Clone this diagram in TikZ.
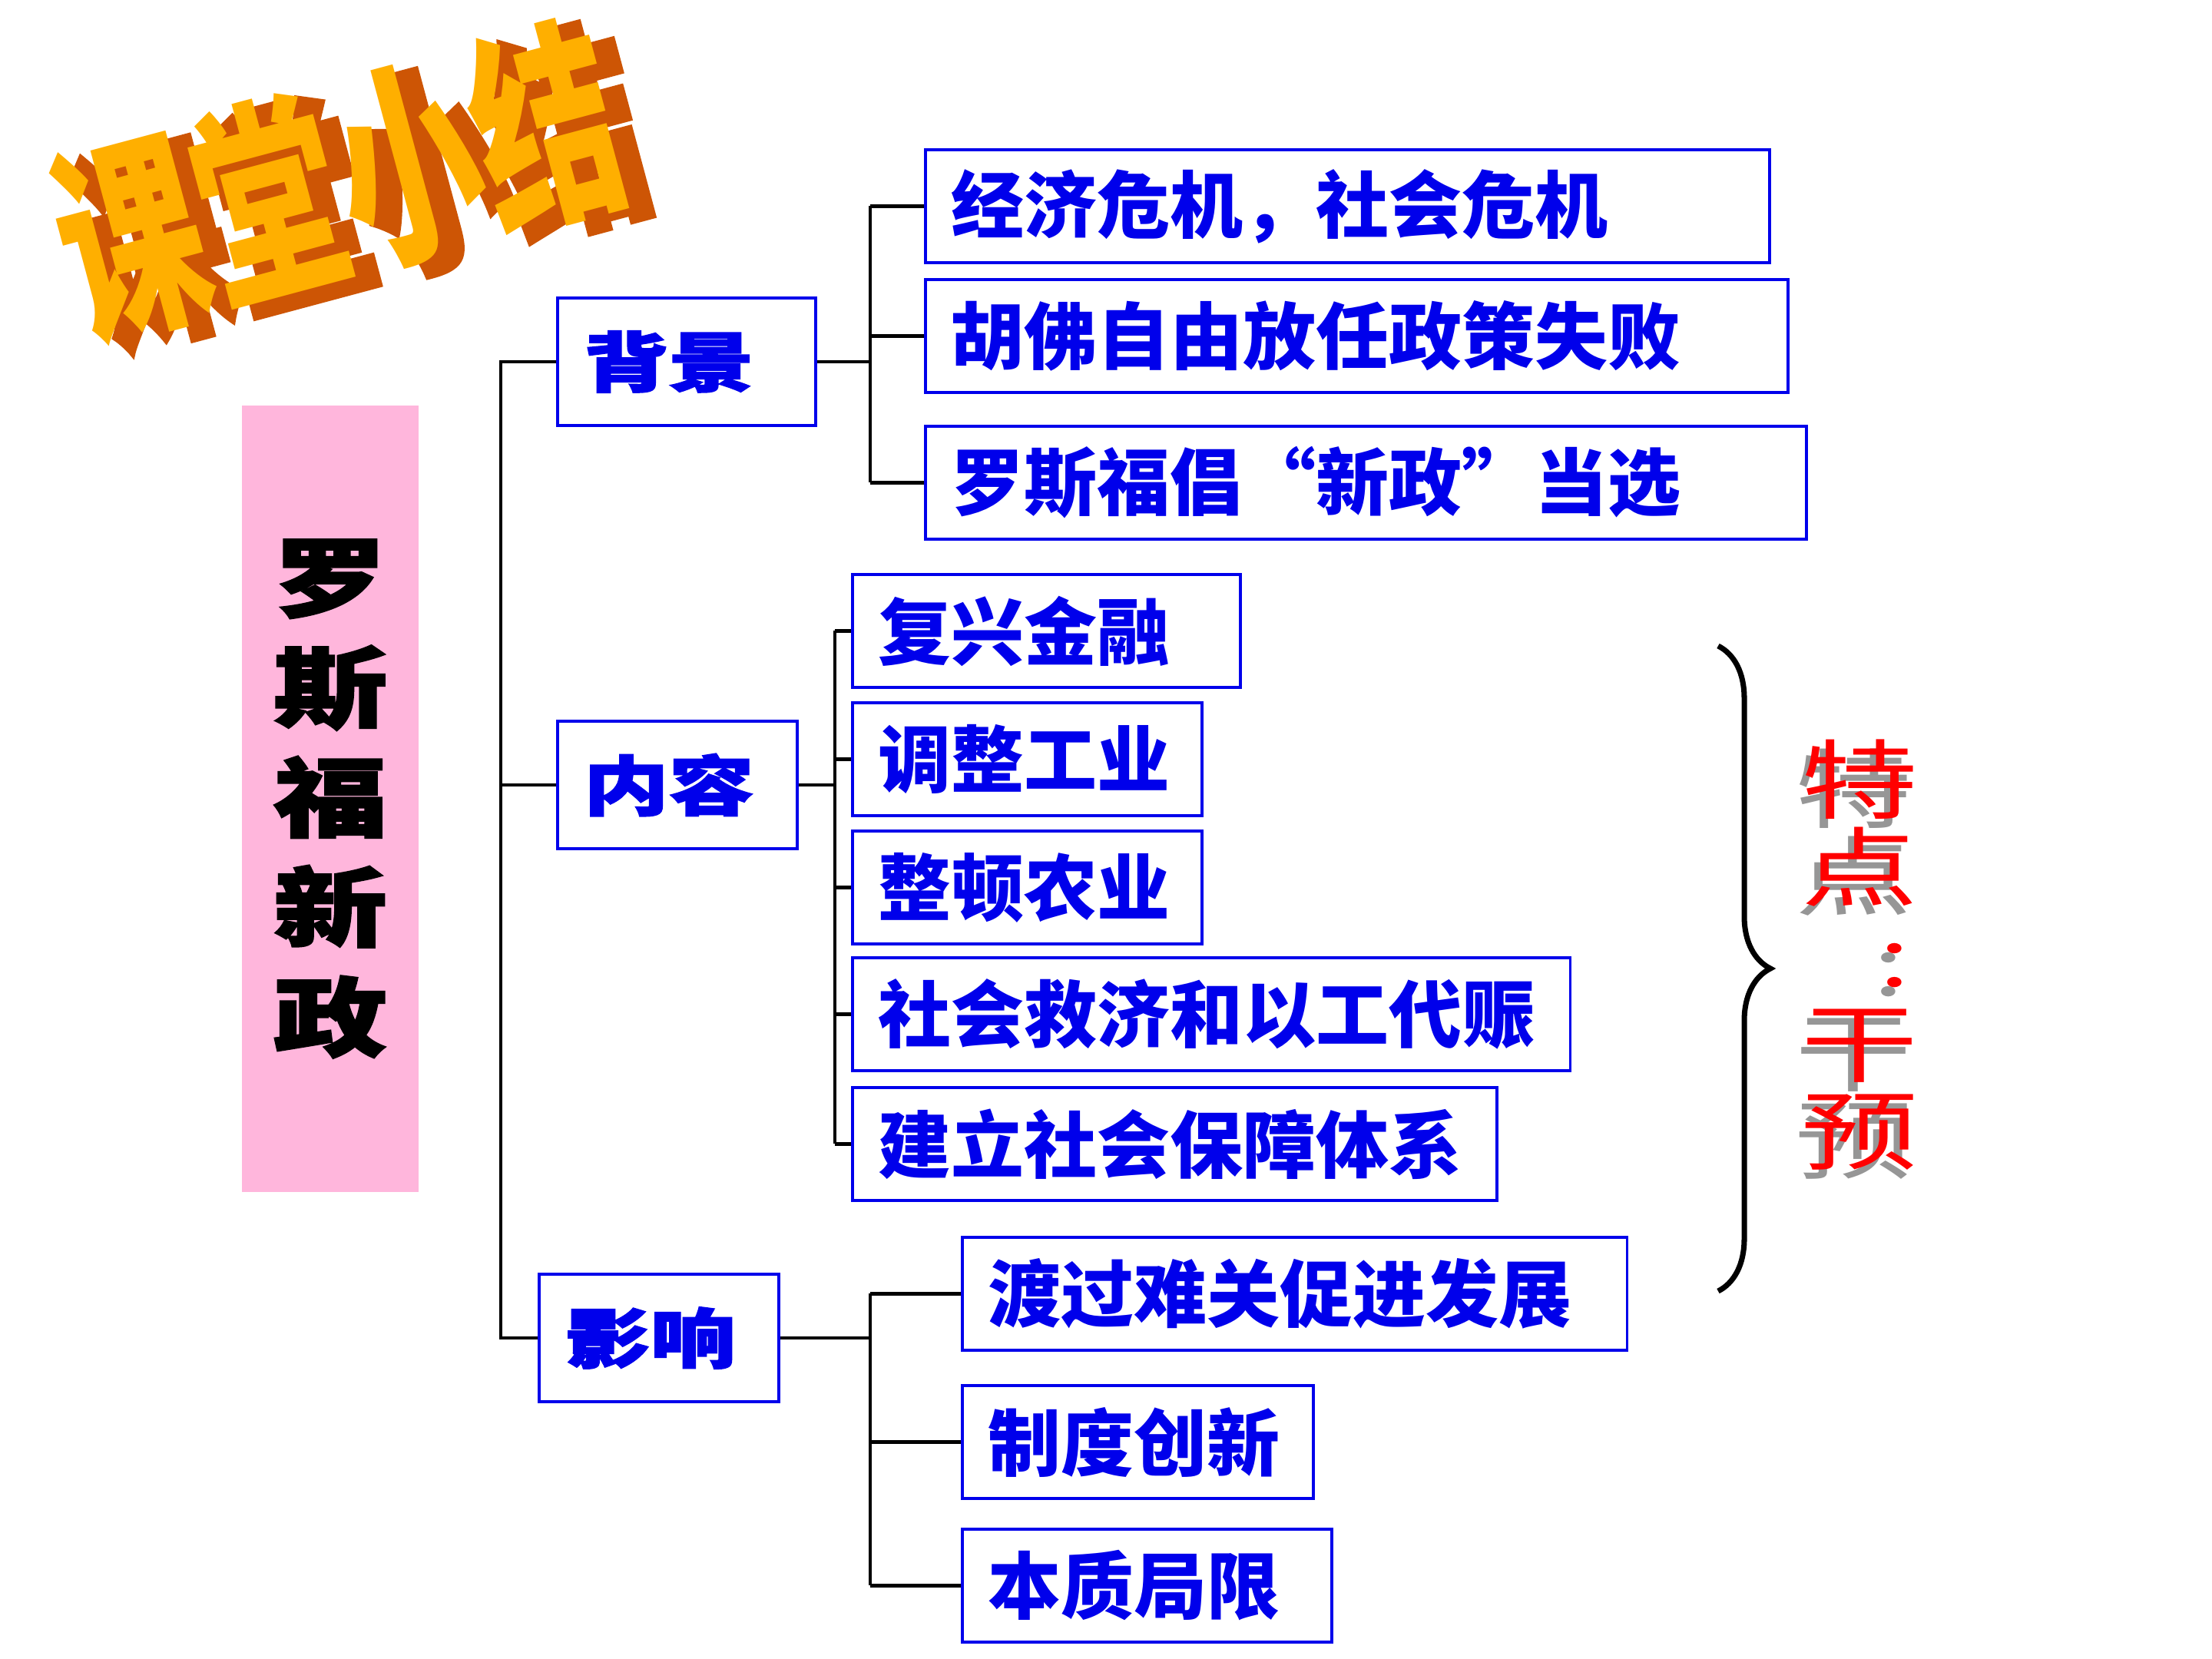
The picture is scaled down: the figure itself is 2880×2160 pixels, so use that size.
\documentclass[tikz,border=0pt]{standalone}
\usepackage{fontspec}
\usepackage{graphicx}
\usetikzlibrary{decorations.pathreplacing}
\newfontfamily\cjk{Noto Sans CJK SC}
\newfontfamily\cjkheavy[BoldFeatures={FakeBold=2}]{Noto Sans CJK SC}
\newfontfamily\cjkfat[BoldFeatures={FakeBold=4}]{Noto Sans CJK SC}
\newcommand{\squat}[1]{\scalebox{1.05}[0.8]{#1}}
\definecolor{slidepink}{RGB}{255,182,220}
\definecolor{boxblue}{RGB}{0,0,235}
\definecolor{titlefront}{RGB}{255,175,0}
\definecolor{titleside}{RGB}{205,85,5}
\definecolor{shadowgrey}{RGB}{150,150,150}

\begin{document}
\begin{tikzpicture}[x=0.01cm,y=-0.01cm,
    itembox/.style={draw=boxblue, line width=1.1pt, anchor=north west, minimum height=1.47cm,
      inner xsep=0.34cm, align=left, text=boxblue, font=\cjk\bfseries\fontsize{27}{30}\selectfont},
    headbox/.style={itembox, minimum height=1.66cm, font=\cjkheavy\bfseries\fontsize{30}{30}\selectfont},
    titletext/.style={rotate=15, yscale=1.5, font=\cjk\bfseries\fontsize{53}{53}\selectfont},
    pointtext/.style={xscale=1.35, align=center, font=\cjk\fontsize{32}{32.5}\selectfont},
    link/.style={line width=1.2pt}]
    \path[use as bounding box, fill=white] (0,0) rectangle (2880,2160);

    % title
    \node[xshift=0.3cm, yshift=-0.08cm, titletext, font=\cjkfat\bfseries\fontsize{53}{53}\selectfont,
      text=titleside] (titleside) at (440,236) {课堂小结};
    \node[titletext, text=titlefront] (title) at (440,236) {课堂小结};

    % left column
    \node[fill=slidepink, minimum width=2.29cm, minimum height=10.23cm, align=center,
      font=\cjkheavy\bfseries\fontsize{40}{40.7}\selectfont] (xinzheng) at (430,1040)
      {\squat{罗}\\\squat{斯}\\\squat{福}\\\squat{新}\\\squat{政}};

    \node[headbox, text width=2.68cm] (beijing) at (724,386) {\squat{背景}};
    \node[headbox, text width=2.44cm] (neirong) at (724,937) {\squat{内容}};
    \node[headbox, text width=2.44cm] (yingxiang) at (700,1657) {\squat{影响}};

    % background
    \node[itembox, text width=10.30cm] (bj1) at (1203,193) {经济危机，社会危机};
    \node[itembox, text width=10.54cm] (bj2) at (1203,362) {胡佛自由放任政策失败};
    \node[itembox, text width=10.78cm] (bj3) at (1203,553) {罗斯福倡“新政”当选};

    % content
    \node[itembox, text width=4.37cm] (nr1) at (1108,746) {复兴金融};
    \node[itembox, text width=3.87cm] (nr2) at (1108,913) {调整工业};
    \node[itembox, text width=3.87cm] (nr3) at (1108,1080) {整顿农业};
    \node[itembox, text width=8.66cm] (nr4) at (1108,1245) {社会救济和以工代赈};
    \node[itembox, text width=7.71cm] (nr5) at (1108,1414) {建立社会保障体系};

    % impact
    \node[itembox, text width=7.97cm] (yx1) at (1251,1609) {渡过难关促进发展};
    \node[itembox, text width=3.89cm] (yx2) at (1251,1802) {制度创新};
    \node[itembox, text width=4.13cm] (yx3) at (1251,1989) {本质局限};

    % connectors
    \coordinate (trunk) at (652,0);
    \coordinate (bjfork) at (1133,0);
    \coordinate (nrfork) at (1087,0);
    \coordinate (yxfork) at (1133,0);
    \draw[link] (beijing.west) -- (beijing.west -| trunk) -- (yingxiang.west -| trunk) -- (yingxiang.west);
    \draw[link] (neirong.west) -- (neirong.west -| trunk);

    \draw[link] (beijing.east) -- (beijing.east -| bjfork);
    \draw[link] (bj1.west -| bjfork) -- (bj3.west -| bjfork);
    \foreach \n in {bj1,bj2,bj3}
        \draw[link] (\n.west -| bjfork) -- (\n.west);

    \draw[link] (neirong.east) -- (neirong.east -| nrfork);
    \draw[link] (nr1.west -| nrfork) -- (nr5.west -| nrfork);
    \foreach \n in {nr1,nr2,nr3,nr4,nr5}
        \draw[link] (\n.west -| nrfork) -- (\n.west);

    \draw[link] (yingxiang.east) -- (yingxiang.east -| yxfork);
    \draw[link] (yx1.west -| yxfork) -- (yx3.west -| yxfork);
    \foreach \n in {yx1,yx2,yx3}
        \draw[link] (\n.west -| yxfork) -- (\n.west);

    % brace and feature
    \coordinate (bracetop) at (2237,841);
    \coordinate (bracebot) at (2237,1681);
    \draw[line width=2pt, decorate, decoration={brace, amplitude=0.68cm}] (bracetop) -- (bracebot);

    \node[pointtext, text=shadowgrey] (tedianshadow) at (2413,1255) {特\\点\\\hspace*{1em}\scalebox{0.8}{：}\\干\\预};
    \node[pointtext, text=red] (tedian) at (2421,1243) {特\\点\\\hspace*{1em}\scalebox{0.8}{：}\\干\\预};
\end{tikzpicture}
\end{document}
